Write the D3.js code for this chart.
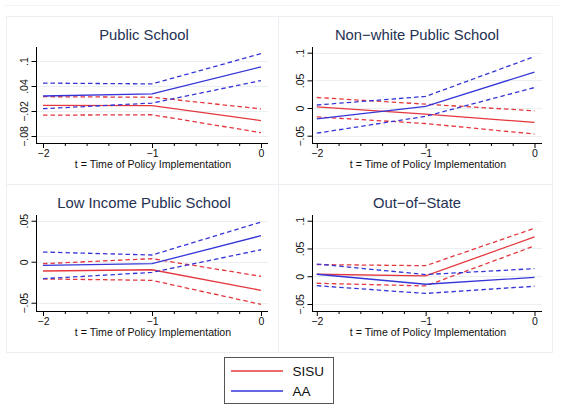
<!DOCTYPE html>
<html>
<head>
<meta charset="utf-8">
<script src="https://cdn.jsdelivr.net/npm/d3@7"></script>
<style>
  html, body { margin: 0; padding: 0; background: #ffffff; }
  svg { display: block; font-family: "Liberation Sans", Arial, Helvetica, sans-serif; }
</style>
</head>
<body>
<svg id="chart" width="564" height="405"></svg>
<script>
// ---------------- DATA ----------------
const periods = [-2, -1, 0];
const xTicks = [-2, -1, 0];
const xTickLabels = ["−2", "−1", "0"];
const xMinorTicks = [-1.8, -1.6, -1.4, -1.2, -0.8, -0.6, -0.4, -0.2];
const xAxisTitle = "t = Time of Policy Implementation";

const panelTitles = ["Public School", "Non−white Public School", "Low Income Public School", "Out−of−State"];
const seriesNames = ["SISU", "AA"];

// Public School
const p1SisuEst = [-0.0064, -0.007, -0.043];
const p1SisuHi  = [0.0144, 0.013, -0.015];
const p1SisuLo  = [-0.030, -0.029, -0.072];
const p1AaEst   = [0.016, 0.021, 0.086];
const p1AaHi    = [0.047, 0.045, 0.1175];
const p1AaLo    = [-0.0145, -0.001, 0.053];
const p1YTicks = [-0.08, -0.02, 0.04, 0.1];
const p1YTickLabels = ["−.08", "−.02", ".04", ".1"];

// Non-white Public School
const p2SisuEst = [0.002, -0.011, -0.026];
const p2SisuHi  = [0.019, 0.007, -0.005];
const p2SisuLo  = [-0.016, -0.028, -0.047];
const p2AaEst   = [-0.0195, 0.003, 0.065];
const p2AaHi    = [0.0055, 0.021, 0.093];
const p2AaLo    = [-0.0455, -0.015, 0.037];
const p2YTicks = [-0.05, 0, 0.05, 0.1];
const p2YTickLabels = ["−.05", "0", ".05", ".1"];

// Low Income Public School
const p3SisuEst = [-0.0113, -0.0098, -0.0349];
const p3SisuHi  = [-0.0024, 0.0037, -0.0178];
const p3SisuLo  = [-0.021, -0.0227, -0.052];
const p3AaEst   = [-0.0044, -0.0024, 0.0317];
const p3AaHi    = [0.0118, 0.0082, 0.0484];
const p3AaLo    = [-0.0207, -0.013, 0.0146];
const p3YTicks = [-0.05, 0, 0.05];
const p3YTickLabels = ["−.05", "0", ".05"];

// Out-of-State
const p4SisuEst = [0.0036, 0.0005, 0.071];
const p4SisuHi  = [0.021, 0.019, 0.0865];
const p4SisuLo  = [-0.0126, -0.0175, 0.0546];
const p4AaEst   = [0.0036, -0.0144, -0.002];
const p4AaHi    = [0.022, 0.003, 0.0137];
const p4AaLo    = [-0.017, -0.031, -0.018];
const p4YTicks = [-0.05, 0, 0.05, 0.1];
const p4YTickLabels = ["−.05", "0", ".05", ".1"];

// ---------------- LAYOUT / STYLE ----------------
const RED = "#e5383e";
const BLUE = "#3636d8";
const TITLE_COLOR = "#253152";
const FONT = '"Liberation Sans", Arial, Helvetica, sans-serif';

const panels = [
  { title: panelTitles[0], col: 0, row: 0, domain: [-0.0968, 0.1336], yTicks: p1YTicks, yLabels: p1YTickLabels,
    sisu: [p1SisuEst, p1SisuHi, p1SisuLo], aa: [p1AaEst, p1AaHi, p1AaLo] },
  { title: panelTitles[1], col: 1, row: 0, domain: [-0.0632, 0.1103], yTicks: p2YTicks, yLabels: p2YTickLabels,
    sisu: [p2SisuEst, p2SisuHi, p2SisuLo], aa: [p2AaEst, p2AaHi, p2AaLo] },
  { title: panelTitles[2], col: 0, row: 1, domain: [-0.0601, 0.0570], yTicks: p3YTicks, yLabels: p3YTickLabels,
    sisu: [p3SisuEst, p3SisuHi, p3SisuLo], aa: [p3AaEst, p3AaHi, p3AaLo] },
  { title: panelTitles[3], col: 1, row: 1, domain: [-0.0626, 0.1103], yTicks: p4YTicks, yLabels: p4YTickLabels,
    sisu: [p4SisuEst, p4SisuHi, p4SisuLo], aa: [p4AaEst, p4AaHi, p4AaLo] }
];

// column geometry (absolute x)
const cols = [
  { boxX: 6, boxW: 272, axisX: 36, x0: 43, x1: 261, axisEnd: 268 },
  { boxX: 278, boxW: 274, axisX: 312, x0: 316.8, x1: 534.5, axisEnd: 542 }
];
const ROW_H = 168;
const BOX_TOP = 16;
// row-relative geometry (row 0)
const PLOT_TOP = 47, PLOT_BOTTOM = 143;

const svg = d3.select("#chart");
svg.append("rect").attr("x", 0).attr("y", 0).attr("width", 564).attr("height", 405).attr("fill", "#ffffff");
// faint outer region edges
svg.append("line").attr("x1", 5).attr("x2", 559).attr("y1", 5.5).attr("y2", 5.5).attr("stroke", "#f2f3f5").attr("stroke-width", 1);

panels.forEach(p => {
  const c = cols[p.col];
  const dy = p.row * ROW_H;
  const g = svg.append("g").attr("transform", `translate(0,${dy})`);

  // panel box
  g.append("rect")
    .attr("x", c.boxX + 0.5).attr("y", BOX_TOP + 0.5)
    .attr("width", c.boxW).attr("height", ROW_H)
    .attr("fill", "#ffffff").attr("stroke", "#eceef3").attr("stroke-width", 1);

  const x = d3.scaleLinear().domain([periods[0], periods[periods.length - 1]]).range([c.x0, c.x1]);
  const y = d3.scaleLinear().domain(p.domain).range([PLOT_BOTTOM, PLOT_TOP]);

  // title
  g.append("text")
    .attr("x", (c.boxX + c.boxX + c.boxW) / 2 + 2).attr("y", 40)
    .attr("text-anchor", "middle").attr("font-size", 14.8).attr("fill", TITLE_COLOR)
    .attr("font-family", FONT)
    .text(p.title);

  // gridlines
  g.selectAll(".grid").data(p.yTicks).enter().append("line")
    .attr("x1", c.axisX).attr("x2", c.axisEnd)
    .attr("y1", d => Math.round(y(d)) + 0.5).attr("y2", d => Math.round(y(d)) + 0.5)
    .attr("stroke", "#eaf0f2").attr("stroke-width", 1);

  // y axis
  const yAxis = d3.axisLeft(y).tickValues(p.yTicks).tickSize(5).tickPadding(2)
    .tickFormat((d, i) => p.yLabels[i]);
  const ya = g.append("g").attr("transform", `translate(${c.axisX},0)`).call(yAxis);
  ya.select(".domain").attr("d", `M0.5,${PLOT_TOP}V${PLOT_BOTTOM}`).attr("stroke", "#000").attr("stroke-width", 1);
  ya.selectAll(".tick line").attr("stroke", "#000").attr("x1", 0.5).attr("x2", -4.5);
  ya.selectAll(".tick text")
    .attr("font-size", 10.5).attr("font-family", FONT).attr("fill", "#111")
    .attr("transform", "rotate(-90)")
    .attr("x", 0).attr("y", -8).attr("dy", 0)
    .attr("text-anchor", "middle");

  // x axis
  const xAxis = d3.axisBottom(x).tickValues(xTicks).tickSize(5).tickPadding(3)
    .tickFormat((d, i) => xTickLabels[i]);
  const xa = g.append("g").attr("transform", `translate(0,${PLOT_BOTTOM})`).call(xAxis);
  xa.select(".domain").attr("d", `M${c.axisX},0.5H${c.axisEnd}`).attr("stroke", "#000").attr("stroke-width", 1);
  xa.selectAll(".tick line").attr("stroke", "#000");
  xa.selectAll(".tick text").attr("font-size", 10.5).attr("font-family", FONT).attr("fill", "#111")
    .attr("y", 14).attr("dy", 0);
  // minor ticks
  const xm = d3.axisBottom(x).tickValues(xMinorTicks).tickSize(3).tickFormat("");
  const xma = g.append("g").attr("transform", `translate(0,${PLOT_BOTTOM})`).call(xm);
  xma.select(".domain").remove();
  xma.selectAll(".tick line").attr("stroke", "#000");

  // x axis title
  g.append("text")
    .attr("x", (c.axisX + c.axisEnd) / 2 + 1).attr("y", 168)
    .attr("text-anchor", "middle").attr("font-size", 10.6).attr("fill", "#111")
    .attr("font-family", FONT)
    .text(xAxisTitle);

  const line = d3.line().x((d, i) => x(periods[i])).y(d => y(d));

  const drawSeries = (arrs, color) => {
    // confidence bounds (dashed)
    [arrs[1], arrs[2]].forEach(vals => {
      g.append("path").attr("d", line(vals)).attr("fill", "none")
        .attr("stroke", color).attr("stroke-width", 1.3).attr("stroke-dasharray", "4.5,3");
    });
    g.append("path").attr("d", line(arrs[0])).attr("fill", "none")
      .attr("stroke", color).attr("stroke-width", 1.3);
  };
  drawSeries(p.sisu, RED);
  drawSeries(p.aa, BLUE);
});

// legend
const legend = svg.append("g");
legend.append("rect").attr("x", 224.5).attr("y", 357.5).attr("width", 109).attr("height", 46)
  .attr("fill", "#ffffff").attr("stroke", "#555").attr("stroke-width", 1);
const legendColors = [RED, BLUE];
const legendY = d3.scalePoint().domain(seriesNames).range([371, 391]);
seriesNames.forEach((name, i) => {
  legend.append("line").attr("x1", 231).attr("x2", 283)
    .attr("y1", legendY(name)).attr("y2", legendY(name))
    .attr("stroke", legendColors[i]).attr("stroke-width", 1.3);
  legend.append("text").attr("x", 292.5).attr("y", legendY(name) + 5)
    .attr("font-size", 13.5).attr("font-family", FONT).attr("fill", "#111")
    .text(name);
});
</script>
</body>
</html>
